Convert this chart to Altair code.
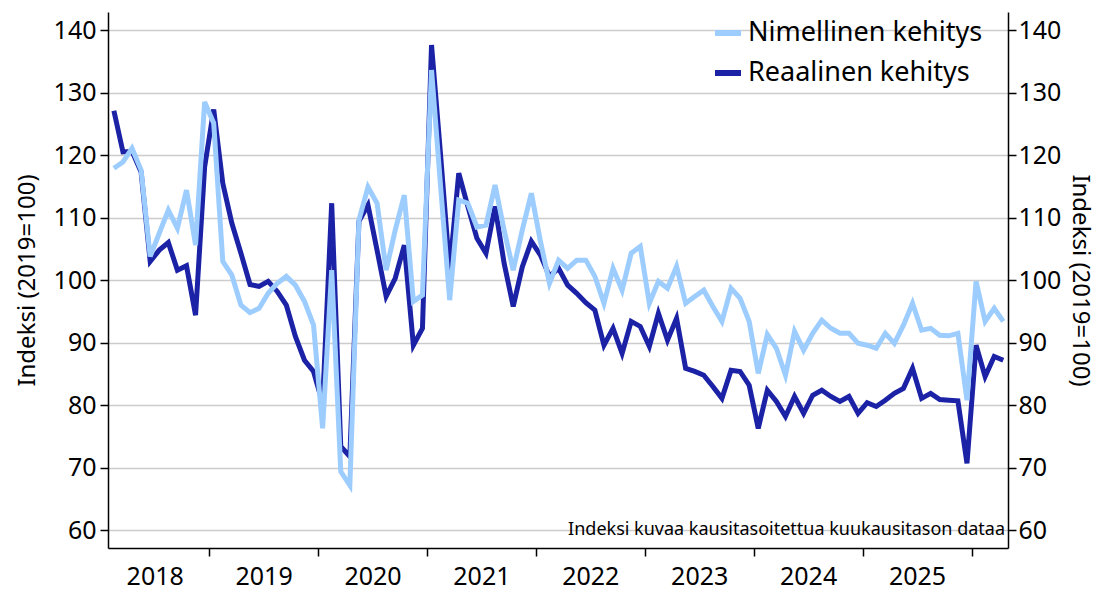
import altair as alt
import pandas as pd

# months since Jan 2018 (Feb 2018 .. Apr 2026)
months = list(range(1, 100))

reaalinen = [
    127.1, 120.5, 120.6, 117.3, 103.0, 104.8, 106.0, 101.6, 102.3, 94.4, 118.1, 127.3,
    115.5, 109.1, 104.3, 99.3, 99.0, 99.8, 98.2, 96.0, 91.0, 87.2, 85.4, 80.3,
    112.3, 73.4, 71.8, 109.4, 112.0, 104.8, 97.4, 100.3, 105.6, 89.6, 92.3, 137.6,
    120.0, 101.6, 117.1, 111.8, 106.7, 104.3, 111.8, 102.7, 95.8, 102.1, 106.2, 104.0,
    100.6, 101.9, 99.2, 97.9, 96.4, 95.2, 89.6, 92.3, 88.3, 93.4, 92.6, 89.4,
    94.7, 90.4, 93.9, 85.9, 85.4, 84.8, 83.0, 81.1, 85.6, 85.4, 83.2, 76.3,
    82.4, 80.6, 78.2, 81.4, 78.7, 81.6, 82.4, 81.4, 80.6, 81.4, 78.7, 80.4,
    79.8, 80.8, 81.9, 82.7, 85.9, 81.1, 81.9, 80.9, 80.8, 80.7, 70.7, 89.6,
    84.6, 87.8, 87.2,
]

nimellinen = [
    117.9, 118.9, 121.1, 117.6, 103.8, 107.5, 111.2, 108.3, 114.4, 105.6, 128.5, 125.1,
    103.0, 100.8, 96.0, 94.8, 95.5, 97.9, 99.5, 100.6, 99.2, 96.6, 92.8, 76.3,
    101.6, 69.4, 67.2, 109.6, 114.9, 112.3, 101.6, 108.0, 113.6, 96.6, 97.6, 133.6,
    115.0, 96.8, 112.8, 112.3, 108.5, 108.8, 115.2, 108.0, 101.6, 108.0, 113.9, 106.2,
    99.5, 103.2, 101.9, 103.2, 103.2, 100.6, 96.3, 101.9, 98.4, 104.3, 105.4, 96.3,
    99.8, 98.7, 102.2, 96.3, 97.4, 98.4, 95.8, 93.4, 98.7, 97.1, 93.4, 85.1,
    91.3, 89.1, 84.8, 91.8, 88.8, 91.5, 93.6, 92.3, 91.5, 91.5, 89.9, 89.6,
    89.1, 91.5, 89.9, 92.8, 96.3, 92.0, 92.3, 91.2, 91.1, 91.5, 80.8, 99.8,
    93.4, 95.5, 93.4,
]

series_names = ["Nimellinen kehitys", "Reaalinen kehitys"]
series_colors = ["#9dcdfe", "#1b22a6"]
year_ticks = [2019, 2020, 2021, 2022, 2023, 2024, 2025, 2026]
y_ticks = [60, 70, 80, 90, 100, 110, 120, 130, 140]
note_text = "Indeksi kuvaa kausitasoitettua kuukausitason dataa"
y_title = "Indeksi (2019=100)"

t = [2018 + (m + 0.5) / 12 for m in months]
df_real = pd.DataFrame({"t": t, "v": reaalinen, "s": series_names[1]})
df_nom = pd.DataFrame({"t": t, "v": nimellinen, "s": series_names[0]})

FONT = "Noto Sans"
W, H = 900, 536
x_dom = [2018.071, 2026.335]
y_dom = [57.17, 142.88]

xenc = alt.X(
    "t:Q",
    scale=alt.Scale(domain=x_dom, nice=False, zero=False),
    axis=alt.Axis(
        values=year_ticks, title=None, grid=False, labelExpr="'' + (datum.value - 1)",
        labelOffset=-54.5, labelOverlap=False, labelFlush=False, tickSize=8,
        labelPadding=8, labelFontSize=25, tickColor="black", domainColor="black",
        domainWidth=1.5, tickWidth=1.5,
    ),
)

color = alt.Color(
    "s:N",
    scale=alt.Scale(domain=series_names, range=series_colors),
    legend=alt.Legend(
        title=None, orient="none", legendX=604, legendY=5, symbolType="stroke",
        symbolStrokeWidth=6, symbolSize=676, labelFontSize=27, rowPadding=11,
        labelLimit=400, symbolOffset=0, labelOffset=4,
    ),
)

dark = alt.Chart(df_real).mark_line(strokeWidth=5).encode(
    x=xenc,
    y=alt.Y(
        "v:Q",
        scale=alt.Scale(domain=y_dom, nice=False, zero=False),
        axis=alt.Axis(
            values=y_ticks, title=y_title, orient="left", grid=True, gridColor="#cccccc",
            gridWidth=1.5, tickSize=8, labelFontSize=25, titleFontSize=24,
            titleFontWeight="normal", titlePadding=14, domainColor="black",
            domainWidth=1.5, tickColor="black", tickWidth=1.5, labelPadding=4,
        ),
    ),
    color=color,
)

light = alt.Chart(df_nom).mark_line(strokeWidth=5).encode(
    x=xenc,
    y=alt.Y(
        "v:Q",
        scale=alt.Scale(domain=y_dom, nice=False, zero=False),
        axis=alt.Axis(
            values=y_ticks, title=y_title, orient="right", grid=False, tickSize=8,
            labelFontSize=25, titleFontSize=24, titleFontWeight="normal",
            titleAngle=90, titlePadding=7, domainColor="black", domainWidth=1.5,
            tickColor="black", tickWidth=1.5,
        ),
    ),
    color=color,
)

note = alt.Chart(pd.DataFrame({"txt": [note_text]})).mark_text(
    align="right", baseline="alphabetic", fontSize=18, font=FONT, color="black"
).encode(x=alt.value(W - 3), y=alt.value(523), text="txt:N")

chart = (
    alt.layer(dark, light, note)
    .resolve_scale(y="independent")
    .properties(
        width=W, height=H, autosize="none",
        padding={"left": 100, "top": 4, "right": 91, "bottom": 42},
    )
    .configure(font=FONT)
    .configure_view(stroke=None)
    .configure_axis(labelColor="black", titleColor="black")
    .configure_legend(labelColor="black")
)

chart.save("out.html", embed_options={"renderer": "svg", "actions": False})
